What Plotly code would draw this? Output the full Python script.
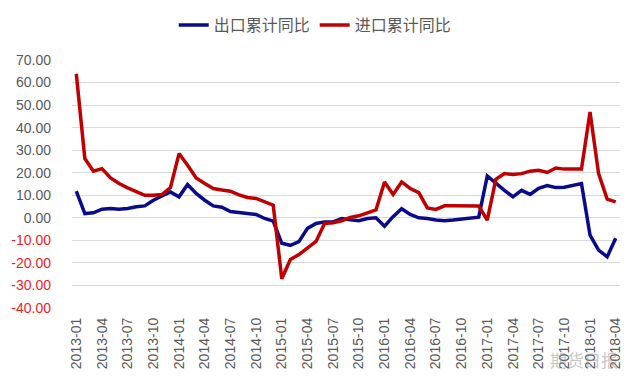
import plotly.graph_objects as go

months = [f"{y}-{m:02d}" for y in range(2013, 2019) for m in range(1, 13)][:64]

export_yoy = [11.8, 1.9, 2.2, 3.8, 4.1, 3.8, 4.1, 4.9, 5.3, 7.8, 9.7, 11.5,
              9.3, 14.8, 10.8, 7.8, 5.3, 4.7, 2.8, 2.4, 2.0, 1.5, -0.3, -1.5,
              -11.3, -12.2, -10.6, -4.7, -2.5, -1.8, -1.8, -0.3, -0.9, -1.3, -0.3, 0.0,
              -3.7, 0.5, 4.0, 1.5, 0.0, -0.3, -1.0, -1.3, -1.0, -0.6, -0.1, 0.3,
              18.6, 15.2, 12.2, 9.3, 12.2, 10.4, 13.1, 14.3, 13.4, 13.6, 14.3, 15.2,
              -7.7, -14.3, -17.3, -9.1]

import_yoy = [63.9, 26.3, 20.7, 21.8, 17.7, 15.2, 13.3, 11.5, 10.0, 10.0, 10.3, 13.4,
              28.5, 23.3, 17.7, 15.2, 13.0, 12.3, 11.8, 10.2, 9.0, 8.6, 7.1, 5.6,
              -27.0, -18.5, -16.3, -13.5, -10.5, -2.5, -2.2, -1.3, 0.2, 0.9, 2.1, 3.5,
              15.9, 10.4, 15.9, 13.0, 11.2, 4.4, 3.7, 5.3, 5.3, 5.3, 5.3, 5.2,
              -1.0, 17.1, 19.6, 19.2, 19.6, 20.7, 21.1, 20.1, 22.1, 21.6, 21.6, 21.6,
              46.9, 19.6, 8.3, 7.1]

x_ticks = months[::3]
y_ticks = [70, 60, 50, 40, 30, 20, 10, 0, -10, -20, -30, -40]

names = ["出口累计同比", "进口累计同比"]
colors = ["#0A0A8A", "#C00000"]

fig = go.Figure()
fig.add_trace(go.Scatter(x=months, y=export_yoy, mode="lines", name=names[0],
                         line=dict(color=colors[0], width=3.5)))
fig.add_trace(go.Scatter(x=months, y=import_yoy, mode="lines", name=names[1],
                         line=dict(color=colors[1], width=3.5)))

tick_text = [f"{v:.2f}" if v >= 0 else f"<span style='color:#EE1C25'>{v:.2f}</span>"
             for v in y_ticks]

fig.update_layout(
    width=640, height=384,
    margin=dict(l=64, r=28, t=52, b=84),
    paper_bgcolor="white", plot_bgcolor="white",
    font=dict(family="Liberation Sans, Arial, Noto Sans CJK SC", size=14, color="#595959"),
    showlegend=True,
    legend=dict(orientation="h", xref="container", yref="container",
                x=0.48, xanchor="center", y=1.0, yanchor="top",
                font=dict(size=16, color="#595959", family="Noto Sans CJK SC"),
                itemwidth=30, tracegroupgap=0),
    xaxis=dict(type="category", range=[-0.5, 63.5], tickmode="array",
               tickvals=x_ticks, ticktext=x_ticks, tickangle=-90, automargin=False,
               showgrid=False, showline=False, zeroline=False,
               tickfont=dict(size=14, color="#595959"), ticks="", ticklabelstandoff=6),
    yaxis=dict(range=[-40, 70], tickmode="array", tickvals=y_ticks, ticktext=tick_text,
               showgrid=True, gridcolor="#D9D9D9", gridwidth=1, zeroline=False,
               showline=False, ticks="", ticklabelstandoff=20, automargin=False,
               tickfont=dict(size=14, color="#595959")),
    annotations=[dict(text="期货日报", xref="paper", yref="paper",
                      x=1.0, y=-0.15, xanchor="right", yanchor="top", showarrow=False,
                      font=dict(size=17, color="rgba(150,150,150,0.55)",
                                family="Noto Sans CJK SC"))],
)

fig.write_html("out.html")
